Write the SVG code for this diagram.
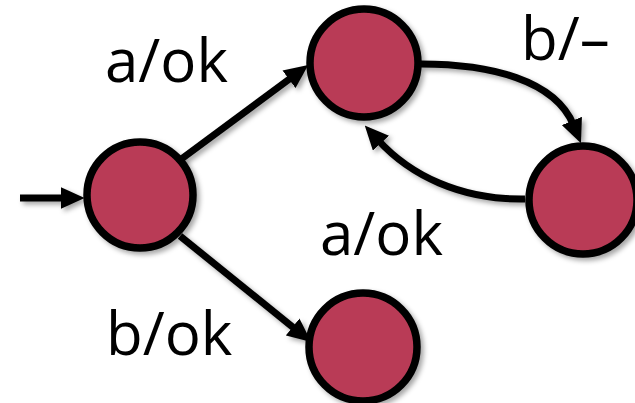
<svg xmlns="http://www.w3.org/2000/svg" width="635" height="403" viewBox="0 0 635 403">
<style>
.node{fill:#B93B56;stroke:#000;stroke-width:7.5}
.edge{fill:none;stroke:#000;stroke-width:7}
.lbl{font-family:"Open Sans","Liberation Sans",sans-serif;font-size:60px;fill:#000}
</style>
<defs>
<filter id="sh" x="-20%" y="-20%" width="150%" height="150%">
<feDropShadow dx="3" dy="3" stdDeviation="2.5" flood-color="#000" flood-opacity="0.35"/>
</filter>
<marker id="ah" markerUnits="userSpaceOnUse" markerWidth="24" markerHeight="22" viewBox="0 0 22 20" refX="4" refY="10" orient="auto">
<path d="M0,0 L22,10 L0,20 z" fill="#000"/>
</marker>
</defs>
<g id="connectors" filter="url(#sh)">
<path id="e-init" class="edge" d="M20,198 L65,198" marker-end="url(#ah)"/>
<path id="e-left-top" class="edge" d="M180,160 L292.5,76.7" marker-end="url(#ah)"/>
<path id="e-left-bottom" class="edge" d="M180,236 L296,329.7" marker-end="url(#ah)"/>
<path id="e-top-right" class="edge" d="M421,64 C490,64 555,80 573.5,125" marker-end="url(#ah)"/>
<path id="e-right-top" class="edge" d="M525,199 C460,200 410,175 378,140" marker-end="url(#ah)"/>
</g>
<g id="n-left" filter="url(#sh)"><circle class="node" cx="140" cy="195" r="53"/></g>
<g id="n-top" filter="url(#sh)"><circle class="node" cx="364" cy="63" r="54"/></g>
<g id="n-right" filter="url(#sh)"><circle class="node" cx="583" cy="200" r="54"/></g>
<g id="n-bottom" filter="url(#sh)"><circle class="node" cx="363" cy="347" r="54"/></g>
<g id="labels">
<text class="lbl" x="105" y="82">a/ok</text>
<text class="lbl" x="320" y="255">a/ok</text>
<text class="lbl" x="106" y="355">b/ok</text>
<text class="lbl" x="521" y="60">b/–</text>
</g>
</svg>
